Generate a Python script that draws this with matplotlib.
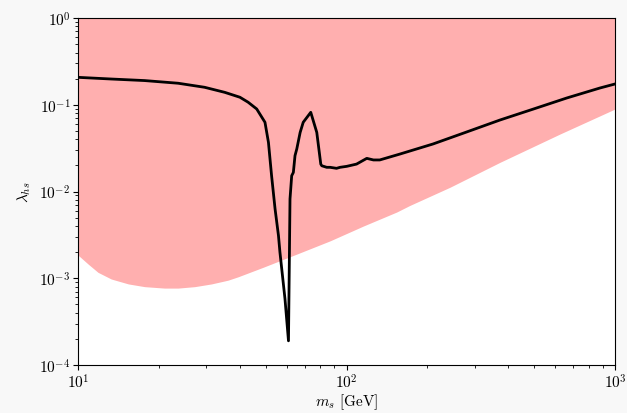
import matplotlib
matplotlib.use("Agg")
import matplotlib.pyplot as plt

plt.rcParams["mathtext.fontset"] = "cm"
plt.rcParams["font.family"] = "serif"
plt.rcParams["font.serif"] = ["cmr10", "DejaVu Serif"]
plt.rcParams["axes.formatter.use_mathtext"] = True

# Lower edge of the allowed (shaded) band, lambda_hs vs m_s
band_m = [10, 10.9, 11.87, 13.3, 15.4, 17.7, 21.0, 23.6, 27.2, 31.4, 36.2, 39.5,
          49, 65.3, 86.9, 115.6, 153.8, 172, 243, 373, 624, 1000]
band_lam = [1.85e-3, 1.46e-3, 1.17e-3, 9.8e-4, 8.6e-4, 8.0e-4, 7.7e-4, 7.7e-4, 8.0e-4,
            8.6e-4, 9.5e-4, 1.04e-3, 1.34e-3, 1.9e-3, 2.7e-3, 4.0e-3, 5.8e-3, 6.9e-3,
            1.12e-2, 2.17e-2, 4.6e-2, 8.93e-2]

# Relic-density curve
curve_m = [10, 13.3, 17.7, 23.6, 29.6, 35.2, 40.1, 43.0, 46.3, 49.7, 51.2, 52.6, 54.2,
           55.8, 56.5, 59, 60.8, 61.6, 62.5, 63.4, 64.3, 65.3, 67.2, 69, 73.6, 77.5,
           80.2, 80.9, 84.4, 86.9, 91.8, 94.6, 100.2, 109, 119, 126, 133, 158, 210,
           280, 373, 497, 661, 879, 1000]
curve_lam = [0.207, 0.198, 0.19, 0.177, 0.159, 0.139, 0.122, 0.107, 0.0894, 0.0628,
             0.0369, 0.0152, 0.00628, 0.0031, 0.002, 5.8e-4, 1.9e-4, 0.0082, 0.0152,
             0.0166, 0.0259, 0.031, 0.048, 0.0628, 0.0818, 0.048, 0.0207, 0.0198,
             0.019, 0.019, 0.0185, 0.019, 0.0195, 0.0207, 0.0241, 0.0231, 0.0231,
             0.027, 0.0353, 0.0485, 0.0667, 0.0893, 0.1196, 0.156, 0.1735]

fig = plt.figure(figsize=(6.27, 4.14), dpi=100, facecolor="#f8f8f8")
ax = fig.add_axes([78 / 627, 48 / 414, 537 / 627, 347 / 414])
ax.set_facecolor("white")

ax.fill_between(band_m, band_lam, [1.0] * len(band_m), color="#ffafaf", lw=0)
ax.plot(curve_m, curve_lam, color="black", lw=2)

ax.set_xscale("log")
ax.set_yscale("log")
ax.set_xlim(10, 1000)
ax.set_ylim(1e-4, 1)
ax.tick_params(labelsize=11, pad=2)
ax.set_xlabel(r"$\boldsymbol{m_s}$ $[\mathrm{GeV}]$", fontsize=11, labelpad=0)
ax.set_ylabel(r"$\boldsymbol{\lambda_{hs}}$", fontsize=11, labelpad=4)

fig.savefig("out.png", dpi=100, facecolor=fig.get_facecolor())
